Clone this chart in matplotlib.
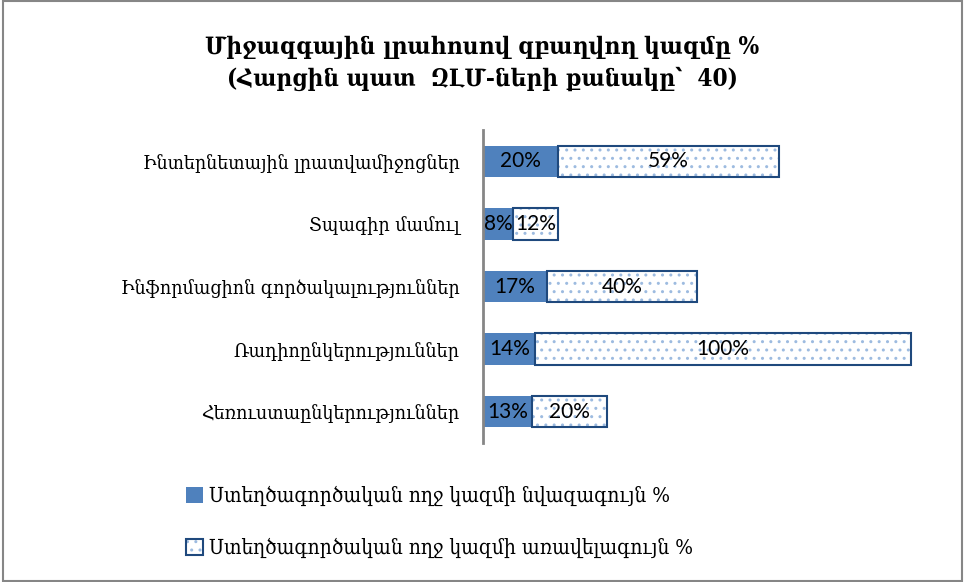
import matplotlib
matplotlib.use("Agg")
import matplotlib.pyplot as plt
from matplotlib.patches import Rectangle

# data (top to bottom as in the reference)
categories = [
    "Ինտերնետային լրատվամիջոցներ",
    "Տպագիր մամուլ",
    "Ինֆորմացիոն գործակալություններ",
    "Ռադիոընկերություններ",
    "Հեռուստաընկերություններ",
]
min_share = [20, 8, 17, 14, 13]
max_share = [59, 12, 40, 100, 20]
series_names = [
    "Ստեղծագործական ողջ կազմի նվազագույն %",
    "Ստեղծագործական ողջ կազմի առավելագույն %",
]
title = "Միջազգային լրահոսով զբաղվող կազմը %\n(Հարցին պատ  ԶԼՄ-ների քանակը՝  40)"

BLUE = "#4F81BD"
DARK = "#1F497D"
DOTS = "#9DBBE0"
SERIF = ["DejaVu Serif"]
NUMS = ["Lato", "DejaVu Sans"]

fig = plt.figure(figsize=(9.65, 5.82), dpi=100)
ax = fig.add_axes([0.5005, 0.2388, 0.4508, 0.5378])

y = list(range(len(categories)))
h = 0.5
b1 = ax.barh(y, min_share, height=h, color=BLUE, edgecolor="none")
b2 = ax.barh(y, max_share, left=min_share, height=h, color="white",
             edgecolor=DOTS, hatch="..", linewidth=0)
b3 = ax.barh(y, max_share, left=min_share, height=h, color="none",
             edgecolor=DARK, linewidth=1.5)

for i in y:
    ax.text(min_share[i] / 2, i, f"{min_share[i]}%", ha="center", va="center",
            fontsize=15, family=NUMS, color="black")
    ax.text(min_share[i] + max_share[i] / 2, i, f"{max_share[i]}%",
            ha="center", va="center", fontsize=15, family=NUMS, color="black")

ax.set_xlim(0, 116)
ax.set_ylim(len(categories) - 0.5, -0.5)
ax.set_yticks(y)
ax.set_yticklabels(categories, fontsize=14, family=SERIF, fontstretch="condensed")
ax.tick_params(axis="y", length=0, pad=17)
ax.set_xticks([])
for s in ["top", "right", "bottom"]:
    ax.spines[s].set_visible(False)
ax.spines["left"].set_color("#868686")
ax.spines["left"].set_linewidth(2)

fig.text(0.4995, 1 - 63 / 582, title, ha="center", va="center",
         fontsize=17.5, fontweight="bold", family=SERIF, fontstretch="condensed",
         linespacing=1.4)

fig.legend([b1, (b2, b3)], series_names, loc="upper left",
           bbox_to_anchor=(186 / 965, 1 - 486 / 582), frameon=False,
           prop={"family": SERIF, "size": 15, "stretch": "condensed"},
           handlelength=0.8, handleheight=0.8, handletextpad=0.3,
           labelspacing=1.5, borderpad=0, borderaxespad=0)

fig.patches.append(Rectangle((0.003, 0.002), 0.994, 0.996,
                             transform=fig.transFigure, fill=False,
                             edgecolor="#868686", linewidth=1.5))

fig.savefig("out.png", dpi=100)
